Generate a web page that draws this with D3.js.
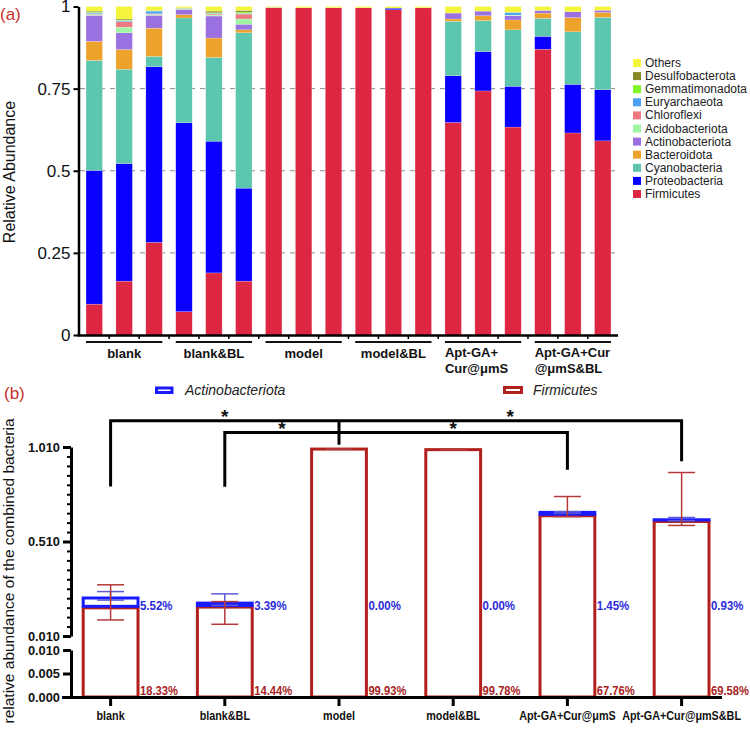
<!DOCTYPE html>
<html>
<head>
<meta charset="utf-8">
<script src="https://cdn.jsdelivr.net/npm/d3@7"></script>
<style>
body { margin: 0; background: #fff; }
text { font-family: "Liberation Sans", Arial, sans-serif; }
</style>
</head>
<body>
<script>
// ---------- panel (a) data ----------
var samples = ["b1","b2","b3","bb1","bb2","bb3","m1","m2","m3","mb1","mb2","mb3","a1","a2","a3","ab1","ab2","ab3"];
var taxa = ["Firmicutes","Proteobacteria","Cyanobacteria","Bacteroidota","Actinobacteriota","Acidobacteriota","Chloroflexi","Euryarchaeota","Gemmatimonadota","Desulfobacterota","Others"];
var taxaColors = ["#dd2641","#0a00ff","#5cc6ae","#eda22b","#9b70e0","#a0f5a2","#ec7a80","#4b9ff5","#80f52b","#878a24","#f4f53b"];

var firmicutes       = [0.094,0.164,0.282, 0.071,0.189,0.164, 0.996,0.996,0.996, 0.996,0.990,0.996, 0.647,0.743,0.633, 0.870,0.615,0.591];
var proteobacteria   = [0.407,0.358,0.535, 0.575,0.401,0.283, 0.001,0,0, 0,0.005,0, 0.142,0.120,0.124, 0.039,0.148,0.156];
var cyanobacteria    = [0.335,0.287,0.031, 0.319,0.255,0.473, 0,0,0, 0,0,0, 0.166,0.094,0.172, 0.055,0.160,0.220];
var bacteroidota     = [0.058,0.060,0.086, 0.010,0.059,0.009, 0,0,0, 0,0,0, 0.007,0.015,0.030, 0.016,0.043,0.015];
var actinobacteriota = [0.079,0.051,0.039, 0.016,0.067,0.017, 0,0,0, 0,0,0, 0.018,0.014,0.013, 0.008,0.018,0.005];
var acidobacteriota  = [0.003,0.017,0.003, 0.001,0.003,0.016, 0,0,0, 0,0,0, 0,0,0.002, 0,0,0];
var chloroflexi      = [0.002,0.017,0.002, 0.001,0.003,0.015, 0,0,0, 0,0,0, 0,0,0, 0,0,0.002];
var euryarchaeota    = [0.003,0.003,0.008, 0.001,0.002,0.002, 0,0,0, 0,0,0, 0,0,0.008, 0,0,0];
var gemmatimonadota  = [0.002,0.002,0.001, 0.001,0.002,0.004, 0,0,0, 0,0,0, 0,0,0, 0,0,0];
var desulfobacterota = [0.003,0.003,0.001, 0.001,0.005,0.005, 0,0,0, 0,0,0, 0,0,0, 0,0,0];
var others           = [0.014,0.038,0.012, 0.004,0.014,0.012, 0.003,0.004,0.004, 0.004,0.005,0.004, 0.020,0.014,0.018, 0.012,0.016,0.011];

var groupsA = [
    {lines: ["blank"], members: ["b1","b2","b3"]},
    {lines: ["blank&BL"], members: ["bb1","bb2","bb3"]},
    {lines: ["model"], members: ["m1","m2","m3"]},
    {lines: ["model&BL"], members: ["mb1","mb2","mb3"]},
    {lines: ["Apt-GA+","Cur@μmS"], members: ["a1","a2","a3"]},
    {lines: ["Apt-GA+Cur","@μmS&BL"], members: ["ab1","ab2","ab3"]}
];
var yTicksA = [0, 0.25, 0.5, 0.75, 1];

// ---------- panel (b) data ----------
var groupsB = ["blank","blank&BL","model","model&BL","Apt-GA+Cur@μmS","Apt-GA+Cur@μmS&BL"];
var firmMean   = [0.159, 0.163, 0.999, 0.996, 0.646, 0.616];
var actinoMean = [0.052, 0.021, 0.000, 0.000, 0.018, 0.009];
var firmErrLow  = [0.095, 0.072, 0.998, 0.995, 0.642, 0.595];
var firmErrHigh = [0.281, 0.192, 0.999, 0.997, 0.748, 0.875];
var actinoErrLow  = [0.200, 0.172, null, null, 0.660, 0.620];
var actinoErrHigh = [0.245, 0.233, null, null, 0.668, 0.637];
var actinoLabels = ["5.52%","3.39%","0.00%","0.00%","1.45%","0.93%"];
var firmLabels   = ["18.33%","14.44%","99.93%","99.78%","67.76%","69.58%"];
var brackets = [
    {to: "blank", level: 1.149, end: 0.801},
    {to: "Apt-GA+Cur@μmS&BL", level: 1.149, end: 0.934},
    {to: "blank&BL", level: 1.087, end: 0.800},
    {to: "Apt-GA+Cur@μmS", level: 1.087, end: 0.890}
];

var svg = d3.select("body").append("svg")
    .attr("width", 750)
    .attr("height", 733);

svg.append("rect").attr("width", 750).attr("height", 733).attr("fill", "#fff");

// squeeze a text horizontally (no narrow font installed)
function squeeze(sel, k) {
    sel.each(function() {
        var L = this.getComputedTextLength();
        d3.select(this).attr("textLength", L * k).attr("lengthAdjust", "spacingAndGlyphs");
    });
}

// ================= panel (a) =================
var rows = samples.map(function(s, i) {
    return {
        id: s,
        Firmicutes: firmicutes[i], Proteobacteria: proteobacteria[i], Cyanobacteria: cyanobacteria[i],
        Bacteroidota: bacteroidota[i], Actinobacteriota: actinobacteriota[i], Acidobacteriota: acidobacteriota[i],
        Chloroflexi: chloroflexi[i], Euryarchaeota: euryarchaeota[i], Gemmatimonadota: gemmatimonadota[i],
        Desulfobacterota: desulfobacterota[i], Others: others[i]
    };
});

var xA = d3.scaleBand().domain(samples).range([79.3, 617.7]).paddingInner(0.45).paddingOuter(0.225);
var yA = d3.scaleLinear().domain([0, 1]).range([335, 6.5]);
var colorA = d3.scaleOrdinal().domain(taxa).range(taxaColors);

var gA = svg.append("g");

// dashed grid
gA.selectAll(".grid")
    .data([0.25, 0.5, 0.75])
    .enter()
    .append("line")
    .attr("x1", 80).attr("x2", 618)
    .attr("y1", d => yA(d)).attr("y2", d => yA(d))
    .attr("stroke", "#8c8c8c")
    .attr("stroke-width", 1)
    .attr("stroke-dasharray", "5,5");

var stacked = d3.stack().keys(taxa)(rows);

gA.selectAll(".layer")
    .data(stacked)
    .enter()
    .append("g")
    .attr("fill", d => colorA(d.key))
    .selectAll("rect")
    .data(d => d)
    .enter()
    .append("rect")
    .attr("x", d => xA(d.data.id))
    .attr("width", xA.bandwidth())
    .attr("y", d => yA(d[1]))
    .attr("height", d => Math.max(0, yA(d[0]) - yA(d[1])))
    .attr("stroke", "#fff")
    .attr("stroke-opacity", 0.5)
    .attr("stroke-width", 0.4);

// y axis
var axisA = gA.append("g")
    .attr("transform", "translate(78.5,0)")
    .call(d3.axisLeft(yA).tickValues(yTicksA).tickSize(5).tickPadding(3).tickSizeOuter(0)
        .tickFormat(d => String(d)));
axisA.select(".domain").attr("stroke-width", 2.5);
axisA.selectAll(".tick line").attr("stroke-width", 2);
axisA.selectAll("text").attr("font-size", 17).attr("fill", "#111");

// x axis line with small ticks between bars
gA.append("line")
    .attr("x1", 77.5).attr("x2", 618)
    .attr("y1", 335.5).attr("y2", 335.5)
    .attr("stroke", "#000").attr("stroke-width", 2.5);

var gapTicks = samples.slice(0, -1).map(s => xA(s) + xA.bandwidth() + (xA.step() - xA.bandwidth()) / 2);
gA.selectAll(".gtick")
    .data(gapTicks)
    .enter()
    .append("line")
    .attr("x1", d => d).attr("x2", d => d)
    .attr("y1", 336).attr("y2", 339)
    .attr("stroke", "#000").attr("stroke-width", 1.5);

// group underlines and labels
groupsA.forEach(function(g) {
    var x0 = xA(g.members[0]);
    var x1 = xA(g.members[2]) + xA.bandwidth();
    gA.append("line")
        .attr("x1", x0).attr("x2", x1)
        .attr("y1", 342).attr("y2", 342)
        .attr("stroke", "#111").attr("stroke-width", 2);
    var t = gA.append("text")
        .attr("font-size", 13)
        .attr("font-weight", "bold")
        .attr("fill", "#111");
    if (g.lines.length === 1) {
        t.attr("x", (x0 + x1) / 2).attr("y", 358).attr("text-anchor", "middle").text(g.lines[0]);
    } else {
        g.lines.forEach(function(l, k) {
            t.append("tspan").attr("x", x0).attr("y", 357 + k * 15.5).text(l);
        });
    }
});

gA.append("text")
    .attr("transform", "translate(15,172) rotate(-90)")
    .attr("text-anchor", "middle")
    .attr("font-size", 16)
    .attr("fill", "#111")
    .text("Relative Abundance");

gA.append("text")
    .attr("x", 0).attr("y", 20)
    .attr("font-size", 17)
    .attr("fill", "#c8302c")
    .text("(a)");

// legend (a)
var legendA = gA.append("g")
    .selectAll("g")
    .data(taxa.slice().reverse())
    .enter()
    .append("g")
    .attr("transform", (d, i) => "translate(633," + (59 + i * 13.1) + ")");
legendA.append("rect")
    .attr("width", 8).attr("height", 8)
    .attr("fill", d => colorA(d));
legendA.append("text")
    .attr("x", 12).attr("y", 8)
    .attr("font-size", 12)
    .attr("fill", "#222")
    .text(d => d);

// ================= panel (b) =================
var gB = svg.append("g");

var xB = d3.scaleBand().domain(groupsB).range([53.5, 738.7]).paddingInner(0.52).paddingOuter(0.26);
var yUp = d3.scaleLinear().domain([0.010, 1.010]).range([636, 447]);
var yLow = d3.scaleLinear().domain([0, 0.010]).range([697, 650]);
var firmColor = "#b2201d";
var actinoColor = "#1a1aff";

// bars
groupsB.forEach(function(g, i) {
    var x = xB(g), w = xB.bandwidth();
    gB.append("rect")
        .attr("x", x).attr("y", yUp(firmMean[i]))
        .attr("width", w).attr("height", yLow(0) - yUp(firmMean[i]))
        .attr("fill", "none")
        .attr("stroke", firmColor).attr("stroke-width", 3);
    if (actinoMean[i] > 0) {
        gB.append("rect")
            .attr("x", x).attr("y", yUp(firmMean[i] + actinoMean[i]))
            .attr("width", w).attr("height", yUp(firmMean[i]) - yUp(firmMean[i] + actinoMean[i]) - 1.5)
            .attr("fill", "none")
            .attr("stroke", actinoColor).attr("stroke-width", 3);
    }
});

// error bars
function errBar(cx, lo, hi, color, width) {
    gB.append("line").attr("x1", cx).attr("x2", cx).attr("y1", yUp(lo)).attr("y2", yUp(hi))
        .attr("stroke", color).attr("stroke-width", width);
    [lo, hi].forEach(function(v) {
        gB.append("line").attr("x1", cx - 13.5).attr("x2", cx + 13.5).attr("y1", yUp(v)).attr("y2", yUp(v))
            .attr("stroke", color).attr("stroke-width", width);
    });
}
groupsB.forEach(function(g, i) {
    var cx = xB(g) + xB.bandwidth() / 2;
    if (actinoErrLow[i] !== null) errBar(cx, actinoErrLow[i], actinoErrHigh[i], "#5a5ad8", 1.5);
    errBar(cx, firmErrLow[i], firmErrHigh[i], "#b5393a", 1.5);
});

// percentage labels
var aLab = gB.selectAll(".alab")
    .data(groupsB)
    .enter()
    .append("text")
    .attr("x", d => xB(d) + xB.bandwidth() + 2)
    .attr("y", 610)
    .attr("font-size", 13).attr("font-weight", "bold")
    .attr("fill", "#2b2bdc")
    .text((d, i) => actinoLabels[i]);
squeeze(aLab, 0.88);
var fLab = gB.selectAll(".flab")
    .data(groupsB)
    .enter()
    .append("text")
    .attr("x", d => xB(d) + xB.bandwidth() + 2)
    .attr("y", 695)
    .attr("font-size", 13).attr("font-weight", "bold")
    .attr("fill", "#a82424")
    .text((d, i) => firmLabels[i]);
squeeze(fLab, 0.86);

// y axes with break
var minorUp = d3.range(0, 21).map(k => 0.010 + k * 0.05);
var axUpMinor = gB.append("g").attr("transform", "translate(71,0)")
    .call(d3.axisLeft(yUp).tickValues(minorUp).tickSize(4).tickSizeOuter(0).tickFormat(""));
axUpMinor.select(".domain").attr("stroke-width", 3);
axUpMinor.selectAll(".tick line").attr("stroke-width", 2);

var axUp = gB.append("g").attr("transform", "translate(71,0)")
    .call(d3.axisLeft(yUp).tickValues([0.010, 0.510, 1.010]).tickSize(8).tickPadding(3).tickSizeOuter(0)
        .tickFormat(d3.format(".3f")));
axUp.select(".domain").remove();
axUp.selectAll(".tick line").attr("stroke-width", 3);

var axLow = gB.append("g").attr("transform", "translate(71,0)")
    .call(d3.axisLeft(yLow).tickValues([0, 0.005, 0.010]).tickSize(8).tickPadding(3).tickSizeOuter(0)
        .tickFormat(d3.format(".3f")));
axLow.select(".domain").attr("stroke-width", 3);
axLow.selectAll(".tick line").attr("stroke-width", 3);

[axUp, axLow].forEach(function(a) {
    var t = a.selectAll("text").attr("font-size", 13.5).attr("font-weight", "bold").attr("fill", "#111");
    squeeze(t, 0.95);
});

// x axis
var axX = gB.append("g").attr("transform", "translate(0,697)")
    .call(d3.axisBottom(xB).tickSize(9).tickPadding(5).tickSizeOuter(0));
axX.select(".domain").attr("d", "M62,0.5H722").attr("stroke-width", 3);
axX.selectAll(".tick line").attr("stroke-width", 3);
var xt = axX.selectAll("text").attr("font-size", 13).attr("font-weight", "bold").attr("fill", "#111");
squeeze(xt, 0.83);

// significance brackets
var xModel = xB("model") + xB.bandwidth() / 2;
gB.append("line")
    .attr("x1", xModel).attr("x2", xModel)
    .attr("y1", yUp(1.149)).attr("y2", yUp(1.022))
    .attr("stroke", "#000").attr("stroke-width", 3);
brackets.forEach(function(b) {
    var xe = xB(b.to) + xB.bandwidth() / 2;
    gB.append("path")
        .attr("d", "M" + xModel + "," + yUp(b.level) + "H" + xe + "V" + yUp(b.end))
        .attr("fill", "none")
        .attr("stroke", "#000").attr("stroke-width", 3);
    gB.append("text")
        .attr("x", (xModel + xe) / 2)
        .attr("y", yUp(b.level) + 2.5)
        .attr("text-anchor", "middle")
        .attr("font-size", 19).attr("font-weight", "bold")
        .attr("fill", "#111")
        .text("*");
});

// legend (b)
gB.append("rect").attr("x", 156.5).attr("y", 388).attr("width", 15.5).attr("height", 4.5)
    .attr("fill", "none").attr("stroke", actinoColor).attr("stroke-width", 3);
gB.append("text").attr("x", 185).attr("y", 395)
    .attr("font-size", 14).attr("font-style", "italic").attr("fill", "#222")
    .text("Actinobacteriota");
gB.append("rect").attr("x", 504.5).attr("y", 387.5).attr("width", 17).attr("height", 5)
    .attr("fill", "none").attr("stroke", firmColor).attr("stroke-width", 3);
gB.append("text").attr("x", 533).attr("y", 395)
    .attr("font-size", 14).attr("font-style", "italic").attr("fill", "#222")
    .text("Firmicutes");

gB.append("text")
    .attr("x", 4).attr("y", 399)
    .attr("font-size", 17)
    .attr("fill", "#c8302c")
    .text("(b)");

gB.append("text")
    .attr("transform", "translate(14,571) rotate(-90)")
    .attr("text-anchor", "middle")
    .attr("font-size", 15.5)
    .attr("fill", "#111")
    .text("relative abundance of the combined bacteria");
</script>
</body>
</html>
